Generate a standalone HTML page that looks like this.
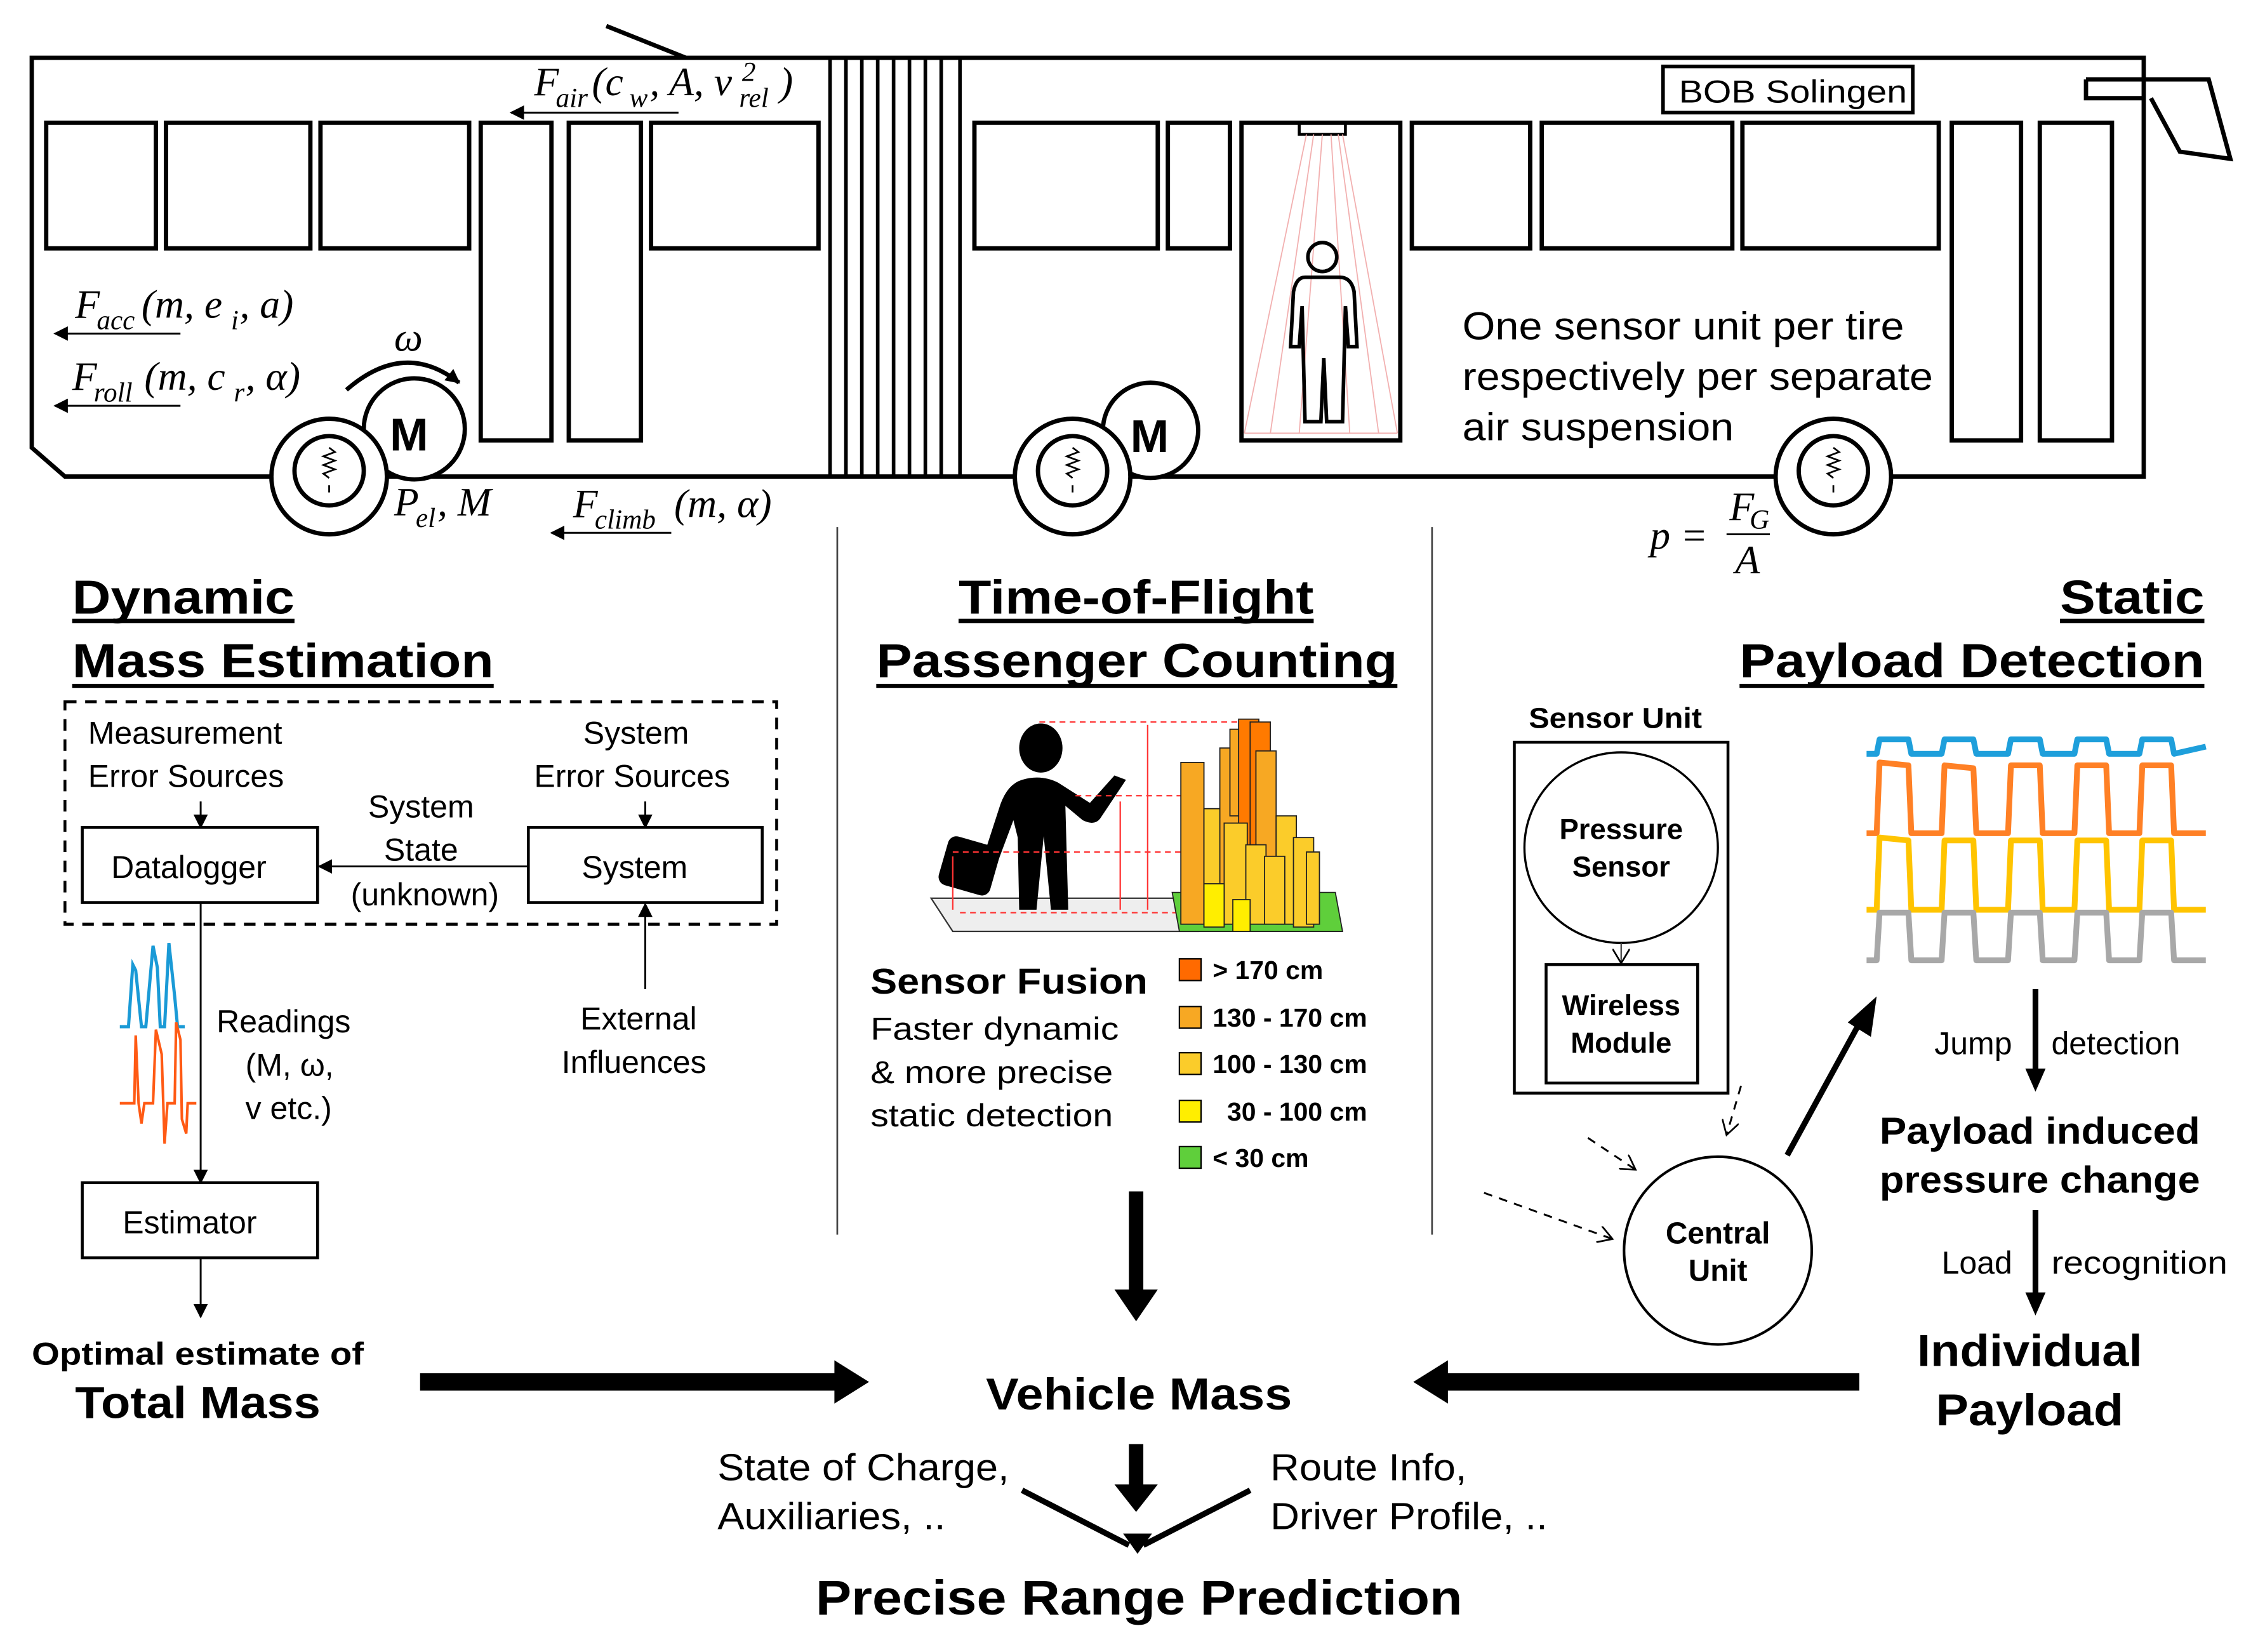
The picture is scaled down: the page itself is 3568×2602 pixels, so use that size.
<!DOCTYPE html>
<html><head><meta charset="utf-8">
<style>
html,body{margin:0;padding:0;background:#fff;}
svg{display:block;}
text{font-family:"Liberation Sans",sans-serif;fill:#000;}
.m{font-family:"Liberation Serif",serif;font-style:italic;font-size:28px;}
.ms{font-family:"Liberation Serif",serif;font-style:italic;font-size:19px;}
.t{font-size:22px;}
.h{font-size:33px;font-weight:bold;}
.b{font-weight:bold;}
</style></head><body>
<svg width="3568" height="2602" viewBox="0 0 1569 1144" preserveAspectRatio="none" xmlns="http://www.w3.org/2000/svg">
<defs>
<marker id="a" markerWidth="10" markerHeight="10" refX="9" refY="5" orient="auto" markerUnits="userSpaceOnUse"><path d="M0,0 L10,5 L0,10 z" fill="#000"/></marker>
<marker id="ao" markerWidth="12" markerHeight="12" refX="10" refY="6" orient="auto" markerUnits="userSpaceOnUse"><path d="M0,0 L10,6 L0,12" fill="none" stroke="#000" stroke-width="1.2"/></marker>
</defs>

<!-- BUS -->
<g fill="none" stroke="#000" stroke-width="3">
<path d="M475,40 L22,40 L22,310 L45,330 L1485,330 L1485,40 L475,40"/>
<line x1="420" y1="18" x2="475" y2="40"/>
<path d="M1445,55 L1445,68 L1485,68 M1445,55 L1530,55 L1545,110 L1510,105 L1490,68"/>
<rect x="32" y="85" width="76" height="87"/>
<rect x="115" y="85" width="100" height="87"/>
<rect x="222" y="85" width="103" height="87"/>
<rect x="333" y="85" width="49" height="220"/>
<rect x="394" y="85" width="50" height="220"/>
<rect x="451" y="85" width="116" height="87"/>
<rect x="675" y="85" width="127" height="87"/>
<rect x="809" y="85" width="43" height="87"/>
<rect x="860" y="85" width="110" height="220"/>
<rect x="978" y="85" width="82" height="87"/>
<rect x="1068" y="85" width="132" height="87"/>
<rect x="1207" y="85" width="136" height="87"/>
<rect x="1352" y="85" width="48" height="220"/>
<rect x="1413" y="85" width="50" height="220"/>
<rect x="1152" y="46" width="173" height="32" stroke-width="2.5"/>
</g>
<g stroke="#000" stroke-width="2.5">
<line x1="575" y1="40" x2="575" y2="330"/><line x1="586" y1="40" x2="586" y2="330"/><line x1="597" y1="40" x2="597" y2="330"/><line x1="608" y1="40" x2="608" y2="330"/><line x1="619" y1="40" x2="619" y2="330"/><line x1="630" y1="40" x2="630" y2="330"/><line x1="641" y1="40" x2="641" y2="330"/><line x1="652" y1="40" x2="652" y2="330"/><line x1="665" y1="40" x2="665" y2="330"/>
</g>
<text x="1163" y="71" font-size="22" textLength="158" lengthAdjust="spacingAndGlyphs">BOB Solingen</text>
<g stroke="#f2b0b0" stroke-width="0.8" fill="none">
<rect x="900" y="85" width="32" height="8" stroke="#000" stroke-width="2"/>
<path d="M905,93 L862,300 M910,93 L880,300 M916,93 L900,300 M922,93 L935,300 M927,93 L955,300 M930,93 L968,300 M862,300 L968,300"/>
</g>
<g fill="none" stroke="#000" stroke-width="2.5">
<circle cx="916" cy="178" r="10"/>
<path d="M904,192 L928,192 Q936,192 938,202 L940,240 L934,240 L932,212 L930,292 L919,292 L917,248 L915,292 L904,292 L902,212 L900,240 L894,240 L896,202 Q898,192 904,192 z"/>
</g>
<g fill="#fff" stroke="#000" stroke-width="3">
<circle cx="287" cy="297" r="35"/>
<circle cx="228" cy="330" r="40"/><circle cx="228" cy="326" r="24"/>
<circle cx="797" cy="298" r="33"/>
<circle cx="743" cy="330" r="40"/><circle cx="743" cy="326" r="24"/>
<circle cx="1270" cy="330" r="40"/><circle cx="1270" cy="326" r="24"/>
</g>
<g stroke="#000" stroke-width="1.2" fill="none">
<path d="M228,310 l4,3 -8,3 8,3 -8,3 8,3 -8,3 4,3 M228,336 v5"/>
<path d="M743,310 l4,3 -8,3 8,3 -8,3 8,3 -8,3 4,3 M743,336 v5"/>
<path d="M1270,310 l4,3 -8,3 8,3 -8,3 8,3 -8,3 4,3 M1270,336 v5"/>
</g>
<text x="270" y="312" font-size="32" font-weight="bold">M</text>
<text x="783" y="313" font-size="32" font-weight="bold">M</text>
<path d="M240,270 Q280,235 318,265" fill="none" stroke="#000" stroke-width="3" marker-end="url(#a)"/>
<text x="273" y="243" class="m">ω</text>

<g stroke="#000" stroke-width="1.3" marker-end="url(#a)">
<line x1="470" y1="78" x2="354" y2="78"/>
<line x1="125" y1="231" x2="38" y2="231"/>
<line x1="125" y1="281" x2="38" y2="281"/>
<line x1="465" y1="369" x2="382" y2="369"/>
</g>
<text x="370" y="66" class="m">F</text><text x="385" y="74" class="ms">air</text>
<text x="410" y="66" class="m">(c</text><text x="436" y="74" class="ms">w</text>
<text x="450" y="66" class="m">, A, v</text><text x="514" y="56" class="ms">2</text>
<text x="512" y="74" class="ms">rel</text><text x="540" y="66" class="m">)</text>

<text x="52" y="220" class="m">F</text><text x="67" y="228" class="ms">acc</text>
<text x="98" y="220" class="m">(m, e</text><text x="160" y="228" class="ms">i</text>
<text x="166" y="220" class="m">, a)</text>

<text x="50" y="270" class="m">F</text><text x="65" y="278" class="ms">roll</text>
<text x="100" y="270" class="m">(m, c</text><text x="162" y="278" class="ms">r</text>
<text x="170" y="270" class="m">, α)</text>

<text x="397" y="358" class="m">F</text><text x="412" y="366" class="ms">climb</text>
<text x="467" y="358" class="m">(m, α)</text>

<text x="273" y="357" class="m">P</text><text x="288" y="365" class="ms">el</text>
<text x="303" y="357" class="m">, M</text>

<text x="1143" y="380" class="m">p =</text>
<text x="1198" y="360" class="m">F</text><text x="1212" y="366" class="ms">G</text>
<line x1="1196" y1="370" x2="1226" y2="370" stroke="#000" stroke-width="1.3"/>
<text x="1202" y="397" class="m">A</text>
<text x="1013" y="235" font-size="27" textLength="306" lengthAdjust="spacingAndGlyphs">One sensor unit per tire</text>
<text x="1013" y="270" font-size="27" textLength="326" lengthAdjust="spacingAndGlyphs">respectively per separate</text>
<text x="1013" y="305" font-size="27" textLength="188" lengthAdjust="spacingAndGlyphs">air suspension</text>

<line x1="580" y1="365" x2="580" y2="855" stroke="#444" stroke-width="1.2"/>
<line x1="992" y1="365" x2="992" y2="855" stroke="#444" stroke-width="1.2"/>

<!-- LEFT SECTION -->
<text x="50" y="425" class="h" textLength="154" lengthAdjust="spacingAndGlyphs">Dynamic</text>
<line x1="50" y1="430" x2="204" y2="430" stroke="#000" stroke-width="3"/>
<text x="50" y="469" class="h" textLength="292" lengthAdjust="spacingAndGlyphs">Mass Estimation</text>
<line x1="50" y1="475" x2="342" y2="475" stroke="#000" stroke-width="3"/>
<rect x="45" y="486" width="493" height="154" fill="none" stroke="#000" stroke-width="2" stroke-dasharray="8,6"/>
<text x="61" y="515" class="t">Measurement</text>
<text x="61" y="545" class="t">Error Sources</text>
<text x="404" y="515" class="t">System</text>
<text x="370" y="545" class="t">Error Sources</text>
<text x="255" y="566" class="t">System</text>
<text x="266" y="596" class="t">State</text>
<text x="243" y="627" class="t">(unknown)</text>
<g fill="none" stroke="#000" stroke-width="2">
<rect x="57" y="573" width="163" height="52"/>
<rect x="366" y="573" width="162" height="52"/>
<rect x="57" y="819" width="163" height="52"/>
</g>
<text x="77" y="608" class="t">Datalogger</text>
<text x="403" y="608" class="t">System</text>
<text x="85" y="854" class="t">Estimator</text>
<g stroke="#000" stroke-width="1.3" marker-end="url(#a)">
<line x1="139" y1="555" x2="139" y2="573"/>
<line x1="447" y1="555" x2="447" y2="573"/>
<line x1="366" y1="600" x2="221" y2="600"/>
<line x1="447" y1="685" x2="447" y2="626"/>
<line x1="139" y1="625" x2="139" y2="819"/>
<line x1="139" y1="871" x2="139" y2="912"/>
</g>
<text x="150" y="715" class="t">Readings</text>
<text x="170" y="745" class="t">(M, ω,</text>
<text x="170" y="775" class="t">v etc.)</text>
<text x="402" y="713" class="t">External</text>
<text x="389" y="743" class="t">Influences</text>
<path d="M83,711 L89,711 L92,668 L94,672 L98,711 L101,711 L106,655 L109,670 L111,711 L114,711 L117,653 L121,690 L123,711 L128,711" fill="none" stroke="#1a9ad6" stroke-width="2.2"/>
<path d="M83,764 L93,764 L94,717 L96,764 L98,778 L100,764 L106,764 L108,713 L112,730 L114,792 L116,764 L121,764 L122,708 L125,720 L126,775 L129,785 L130,764 L136,764" fill="none" stroke="#ff5a14" stroke-width="1.8"/>
<text x="22" y="945" font-size="22" class="b" textLength="230" lengthAdjust="spacingAndGlyphs">Optimal estimate of</text>
<text x="52" y="982" font-size="31" class="b" textLength="170" lengthAdjust="spacingAndGlyphs">Total Mass</text>

<!-- MIDDLE SECTION -->
<text x="664" y="425" class="h" textLength="246" lengthAdjust="spacingAndGlyphs">Time-of-Flight</text>
<line x1="664" y1="430" x2="910" y2="430" stroke="#000" stroke-width="3"/>
<text x="607" y="469" class="h" textLength="361" lengthAdjust="spacingAndGlyphs">Passenger Counting</text>
<line x1="607" y1="475" x2="968" y2="475" stroke="#000" stroke-width="3"/>
<polygon points="645,622 815,622 830,645 660,645" fill="#eee" stroke="#333" stroke-width="1"/>
<g fill="#000">
<ellipse cx="721" cy="518" rx="15" ry="17"/>
<path d="M708,540 Q721,536 733,542 L755,556 L772,537 L780,540 L762,567 Q758,572 750,568 L738,558 L740,630 L728,630 L723,579 L718,630 L706,630 L705,580 L702,568 L690,600 L680,597 L693,557 Q698,543 708,540 z"/>
<rect x="653" y="582" width="37" height="35" rx="6" transform="rotate(16 671 599)"/>
</g>
<g stroke="#f33" stroke-width="1" stroke-dasharray="4,3" fill="none">
<line x1="720" y1="500" x2="870" y2="500"/>
<line x1="745" y1="551" x2="820" y2="551"/>
<line x1="660" y1="590" x2="880" y2="590"/>
<line x1="665" y1="632" x2="815" y2="632"/>
</g>
<g stroke="#f33" stroke-width="1">
<line x1="795" y1="502" x2="795" y2="630"/>
<line x1="776" y1="555" x2="776" y2="630"/>
<line x1="660" y1="593" x2="660" y2="630"/>
</g>
<g stroke="#222" stroke-width="0.8">
<polygon points="812,618 925,618 930,645 817,645" fill="#5fcf3b"/>
<rect x="818" y="528" width="16" height="112" fill="#f7a823"/>
<rect x="834" y="560" width="14" height="80" fill="#fbcc2a"/>
<rect x="845" y="518" width="14" height="110" fill="#f7a823"/>
<rect x="852" y="505" width="16" height="60" fill="#f7a823"/>
<rect x="858" y="498" width="14" height="135" fill="#ff7a00"/>
<rect x="866" y="500" width="14" height="120" fill="#ff7a00"/>
<rect x="870" y="520" width="14" height="110" fill="#f7a823"/>
<rect x="884" y="565" width="14" height="75" fill="#fbcc2a"/>
<rect x="896" y="580" width="14" height="62" fill="#fbcc2a"/>
<rect x="905" y="590" width="9" height="50" fill="#fbcc2a"/>
<rect x="848" y="570" width="16" height="70" fill="#fbcc2a"/>
<rect x="863" y="585" width="14" height="55" fill="#fbcc2a"/>
<rect x="876" y="593" width="14" height="47" fill="#fbcc2a"/>
<rect x="834" y="612" width="14" height="30" fill="#ffee00"/>
<rect x="854" y="623" width="12" height="22" fill="#ffee00"/>
</g>
<text x="603" y="688" font-size="25" class="b" textLength="192" lengthAdjust="spacingAndGlyphs">Sensor Fusion</text>
<text x="603" y="720" class="t" textLength="172" lengthAdjust="spacingAndGlyphs">Faster dynamic</text>
<text x="603" y="750" class="t" textLength="168" lengthAdjust="spacingAndGlyphs">&amp; more precise</text>
<text x="603" y="780" class="t" textLength="168" lengthAdjust="spacingAndGlyphs">static detection</text>
<g stroke="#000" stroke-width="1">
<rect x="817" y="664" width="15" height="15" fill="#ff6a00"/>
<rect x="817" y="697" width="15" height="15" fill="#f7a823"/>
<rect x="817" y="729" width="15" height="15" fill="#fbcc2a"/>
<rect x="817" y="762" width="15" height="15" fill="#ffee00"/>
<rect x="817" y="794" width="15" height="15" fill="#5fcf3b"/>
</g>
<g font-size="18" font-weight="bold">
<text x="840" y="678">&gt; 170 cm</text>
<text x="840" y="711">130 - 170 cm</text>
<text x="840" y="743">100 - 130 cm</text>
<text x="850" y="776">30 - 100 cm</text>
<text x="840" y="808">&lt; 30 cm</text>
</g>
<line x1="787" y1="825" x2="787" y2="895" stroke="#000" stroke-width="10"/>
<polygon points="772,893 802,893 787,915" fill="#000"/>
<text x="683" y="976" font-size="31" class="b" textLength="212" lengthAdjust="spacingAndGlyphs">Vehicle Mass</text>
<line x1="291" y1="957" x2="582" y2="957" stroke="#000" stroke-width="12"/>
<polygon points="578,942 602,957 578,972" fill="#000"/>
<line x1="1288" y1="957" x2="1000" y2="957" stroke="#000" stroke-width="12"/>
<polygon points="1003,942 979,957 1003,972" fill="#000"/>
<line x1="787" y1="1000" x2="787" y2="1030" stroke="#000" stroke-width="10"/>
<polygon points="772,1028 802,1028 787,1047" fill="#000"/>
<line x1="708" y1="1032" x2="782" y2="1070" stroke="#000" stroke-width="4"/>
<line x1="866" y1="1032" x2="792" y2="1070" stroke="#000" stroke-width="4"/>
<polygon points="778,1062 798,1062 788,1076" fill="#000"/>
<text x="497" y="1025" font-size="26" textLength="202" lengthAdjust="spacingAndGlyphs">State of Charge,</text>
<text x="497" y="1059" font-size="26" textLength="158" lengthAdjust="spacingAndGlyphs">Auxiliaries, ..</text>
<text x="880" y="1025" font-size="26" textLength="136" lengthAdjust="spacingAndGlyphs">Route Info,</text>
<text x="880" y="1059" font-size="26" textLength="192" lengthAdjust="spacingAndGlyphs">Driver Profile, ..</text>
<text x="565" y="1118" font-size="34" class="b" textLength="448" lengthAdjust="spacingAndGlyphs">Precise Range Prediction</text>

<!-- RIGHT SECTION -->
<text x="1427" y="425" class="h" textLength="100" lengthAdjust="spacingAndGlyphs">Static</text>
<line x1="1427" y1="430" x2="1527" y2="430" stroke="#000" stroke-width="3"/>
<text x="1205" y="469" class="h" textLength="322" lengthAdjust="spacingAndGlyphs">Payload Detection</text>
<line x1="1205" y1="475" x2="1527" y2="475" stroke="#000" stroke-width="3"/>
<text x="1059" y="504" font-size="20" class="b" textLength="120" lengthAdjust="spacingAndGlyphs">Sensor Unit</text>
<rect x="1049" y="514" width="148" height="243" fill="none" stroke="#000" stroke-width="2"/>
<ellipse cx="1123" cy="587" rx="67" ry="66" fill="none" stroke="#000" stroke-width="1.5"/>
<text x="1123" y="581" font-size="20" class="b" text-anchor="middle">Pressure</text>
<text x="1123" y="607" font-size="20" class="b" text-anchor="middle">Sensor</text>
<line x1="1123" y1="653" x2="1123" y2="667" stroke="#444" stroke-width="1" marker-end="url(#ao)"/>
<rect x="1071" y="668" width="105" height="82" fill="none" stroke="#000" stroke-width="2"/>
<text x="1123" y="703" font-size="20" class="b" text-anchor="middle">Wireless</text>
<text x="1123" y="729" font-size="20" class="b" text-anchor="middle">Module</text>
<circle cx="1190" cy="866" r="65" fill="none" stroke="#000" stroke-width="1.8"/>
<text x="1190" y="861" font-size="21" class="b" text-anchor="middle">Central</text>
<text x="1190" y="887" font-size="21" class="b" text-anchor="middle">Unit</text>
<g stroke="#000" stroke-width="1.3" stroke-dasharray="6,5" fill="none" marker-end="url(#ao)">
<line x1="1206" y1="752" x2="1196" y2="786"/>
<line x1="1100" y1="788" x2="1133" y2="810"/>
<line x1="1028" y1="826" x2="1117" y2="858"/>
</g>
<line x1="1238" y1="800" x2="1290" y2="705" stroke="#000" stroke-width="4"/>
<polygon points="1300,690 1296,718 1280,708" fill="#000"/>
<g fill="none" stroke-width="4" stroke-linejoin="round">
<path stroke="#1e9fdb" d="M1293,522 L1300,522 L1302,512 L1322,512 L1324,522 L1345,522 L1347,512 L1367,512 L1369,522 L1391,522 L1393,512 L1413,512 L1415,522 L1437,522 L1439,512 L1459,512 L1461,522 L1482,522 L1484,512 L1504,512 L1506,522 L1528,517"/>
<path stroke="#ff8025" d="M1293,577 L1300,577 L1302,528 L1322,530 L1324,577 L1345,577 L1347,530 L1367,532 L1369,577 L1391,577 L1393,530 L1413,530 L1415,577 L1437,577 L1439,530 L1459,530 L1461,577 L1482,577 L1484,530 L1504,530 L1506,577 L1528,577"/>
<path stroke="#ffc400" d="M1293,630 L1300,630 L1302,580 L1322,582 L1324,630 L1345,630 L1347,582 L1367,582 L1369,630 L1391,630 L1393,582 L1413,582 L1415,630 L1437,630 L1439,582 L1459,582 L1461,630 L1482,630 L1484,582 L1504,582 L1506,630 L1528,630"/>
<path stroke="#a8a8a8" d="M1293,665 L1300,665 L1302,632 L1322,632 L1324,665 L1345,665 L1347,632 L1367,632 L1369,665 L1391,665 L1393,632 L1413,632 L1415,665 L1437,665 L1439,632 L1459,632 L1461,665 L1482,665 L1484,632 L1504,632 L1506,665 L1528,665"/>
</g>
<line x1="1410" y1="685" x2="1410" y2="742" stroke="#000" stroke-width="4"/>
<polygon points="1403,740 1417,740 1410,756" fill="#000"/>
<text x="1340" y="730" class="t">Jump</text>
<text x="1421" y="730" class="t">detection</text>
<text x="1413" y="792" font-size="26" class="b" text-anchor="middle" textLength="222" lengthAdjust="spacingAndGlyphs">Payload induced</text>
<text x="1413" y="826" font-size="26" class="b" text-anchor="middle" textLength="222" lengthAdjust="spacingAndGlyphs">pressure change</text>
<line x1="1410" y1="838" x2="1410" y2="897" stroke="#000" stroke-width="4"/>
<polygon points="1403,895 1417,895 1410,911" fill="#000"/>
<text x="1345" y="882" class="t">Load</text>
<text x="1421" y="882" class="t" textLength="122" lengthAdjust="spacingAndGlyphs">recognition</text>
<text x="1406" y="946" font-size="31" class="b" text-anchor="middle" textLength="156" lengthAdjust="spacingAndGlyphs">Individual</text>
<text x="1406" y="987" font-size="31" class="b" text-anchor="middle" textLength="130" lengthAdjust="spacingAndGlyphs">Payload</text>
</svg>
</body></html>
